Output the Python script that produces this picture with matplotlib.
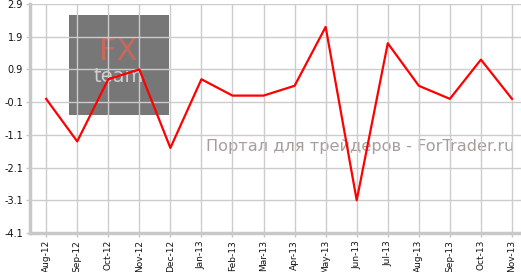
import matplotlib
matplotlib.use('Agg')
import matplotlib.pyplot as plt
from matplotlib.patches import Rectangle

# Données
mois = ['Aug-12', 'Sep-12', 'Oct-12', 'Nov-12', 'Dec-12', 'Jan-13', 'Feb-13', 'Mar-13',
        'Apr-13', 'May-13', 'Jun-13', 'Jul-13', 'Aug-13', 'Sep-13', 'Oct-13', 'Nov-13']
valeurs = [0.0, -1.3, 0.6, 0.9, -1.5, 0.6, 0.1, 0.1,
           0.4, 2.2, -3.1, 1.7, 0.4, 0.0, 1.2, 0.0]
graduations_y = [2.9, 1.9, 0.9, -0.1, -1.1, -2.1, -3.1, -4.1]

fig = plt.figure(figsize=(5.21, 2.72), dpi=100)
W, H = 521, 272
ax = fig.add_axes([30 / W, (H - 233) / H, 491 / W, 229 / H])

x = list(range(len(mois)))
ax.plot(x, valeurs, color='#ff0000', linewidth=1.6, zorder=3)

ax.set_xlim(-0.52, 15.29)
ax.set_ylim(-4.1, 2.9)
ax.set_xticks(x)
ax.set_xticklabels(mois, rotation=90, fontsize=6.5)
ax.set_yticks(graduations_y)
ax.set_yticklabels([f'{v:.1f}' for v in graduations_y], fontsize=7)
ax.tick_params(axis='both', length=3, width=1, color='#c8c8c8', pad=2, labelcolor='#111111')

ax.set_axisbelow(True)
ax.grid(True, color='#cccccc', linewidth=1)
for s in ['top', 'right']:
    ax.spines[s].set_visible(False)
for s in ['left', 'bottom']:
    ax.spines[s].set_color('#c8c8c8')
    ax.spines[s].set_linewidth(2.5)

# Logo FX team (filigrane)
logo = Rectangle((69 / W, 1 - 115 / H), 100 / W, 100 / H, transform=fig.transFigure,
                 facecolor='#777777', edgecolor='none', zorder=0.2)
ax.add_patch(logo)
ax.text(118 / W, 1 - 52 / H, 'FX', transform=fig.transFigure, color='#c8685c',
        fontsize=22, ha='center', va='center', zorder=0.3)
ax.text(119 / W, 1 - 76 / H, 'team', transform=fig.transFigure, color='#d0d0d0',
        fontsize=14, ha='center', va='center', zorder=0.3)

ax.text(360 / W, 1 - 147 / H, 'Портал для трейдеров - ForTrader.ru', transform=fig.transFigure,
        color='#a89c9c', fontsize=11.6, ha='center', va='center', zorder=0.3)

fig.savefig('out.png', dpi=100)
